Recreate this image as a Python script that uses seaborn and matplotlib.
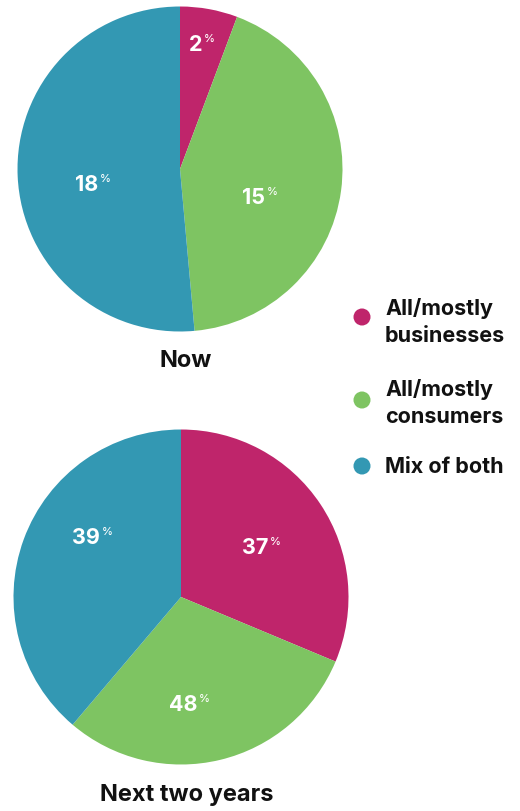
import matplotlib
matplotlib.use("Agg")
import matplotlib.pyplot as plt
import seaborn as sns

# ---- data ----
categories = ["All/mostly\nbusinesses", "All/mostly\nconsumers", "Mix of both"]
colors = ["#BF256B", "#7EC462", "#3398B3"]
now_values = [2, 15, 18]
now_labels = ["2", "15", "18"]
next_values = [31.3, 29.9, 38.8]   # wedge shares as drawn
next_labels = ["37", "48", "39"]
titles = ["Now", "Next two years"]

sns.set_theme(style="white")
plt.rcParams["font.family"] = ["Inter", "DejaVu Sans"]

W, H = 520, 812
fig = plt.figure(figsize=(W / 100, H / 100), dpi=100)
ax = fig.add_axes([0, 0, 1, 1])

def Y(y):
    return H - y

def draw_pie(values, labels, center, radius, label_pos, title, title_y):
    ax.pie(values, colors=colors, startangle=90, counterclock=False,
           center=(center[0], Y(center[1])), radius=radius,
           wedgeprops=dict(linewidth=0, antialiased=True), frame=True)
    for lab, (x, y) in zip(labels, label_pos):
        ax.text(x, Y(y), lab, color="white", fontsize=15.5, fontweight="bold",
                ha="right", va="center")
        ax.annotate("%", xy=(x, Y(y)), xytext=(1, 4.5), textcoords="offset points",
                    color="white", fontsize=8, fontweight="medium", ha="left", va="center")
    ax.text(center[0] + 5.5, Y(title_y), title, color="#111111", fontsize=17,
            fontweight="bold", ha="center", va="center")

draw_pie(now_values, now_labels, (180, 170), 162.5,
         [(202, 45), (265, 198), (98, 185)], titles[0], 361)
draw_pie(next_values, next_labels, (181, 598), 167.5,
         [(268, 548), (197, 705), (100, 538)], titles[1], 795)

ax.set_xlim(0, W)
ax.set_ylim(0, H)
ax.set_aspect("equal")
ax.axis("off")

# legend
leg_y = [318, 401, 467]
text_y = [322, 403, 467]
for c, lab, ly, ty in zip(colors, categories, leg_y, text_y):
    ax.scatter([362], [Y(ly)], s=150, color=c, edgecolor="none", zorder=5)
    ax.text(385, Y(ty), lab, color="#111111", fontsize=15.5, fontweight="bold",
            ha="left", va="center", linespacing=1.4)

fig.savefig("out.png", dpi=100, facecolor="white")
